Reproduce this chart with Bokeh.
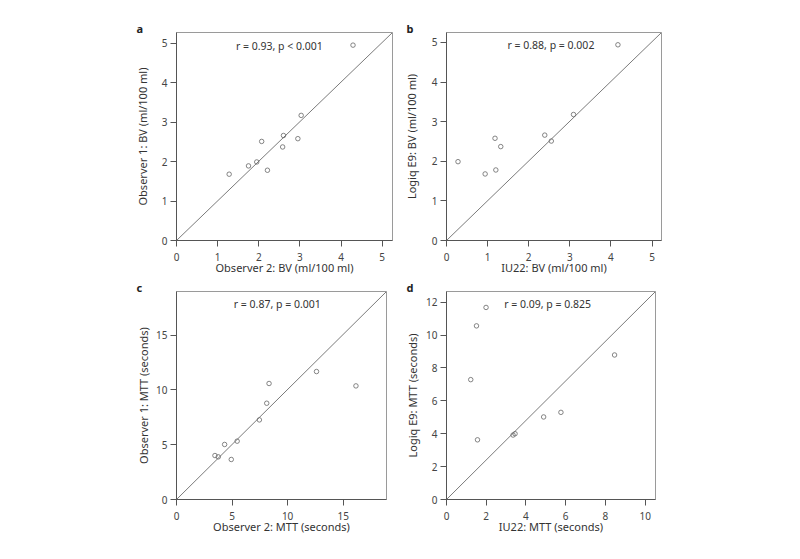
from bokeh.plotting import figure
from bokeh.layouts import column, row
from bokeh.models import Range1d, FixedTicker, Label, ColumnDataSource
from bokeh.embed import file_html
from bokeh.resources import INLINE

FONT = "Noto Sans"

# ---- data ----
a_x = [4.29, 3.03, 2.60, 2.95, 2.58, 2.07, 1.95, 1.75, 2.21, 1.28]
a_y = [4.95, 3.17, 2.66, 2.58, 2.37, 2.51, 1.99, 1.89, 1.78, 1.68]
b_x = [4.17, 3.09, 2.39, 2.55, 1.18, 1.32, 0.28, 0.94, 1.20]
b_y = [4.94, 3.18, 2.66, 2.51, 2.58, 2.37, 1.99, 1.68, 1.78]
c_x = [3.46, 3.76, 4.33, 5.46, 4.93, 7.46, 8.12, 8.33, 12.6, 16.15]
c_y = [4.01, 3.89, 5.02, 5.32, 3.65, 7.26, 8.78, 10.58, 11.67, 10.36]
d_x = [1.99, 1.51, 1.22, 1.56, 3.35, 3.45, 4.89, 5.76, 8.46]
d_y = [11.68, 10.56, 7.29, 3.63, 3.92, 4.00, 5.02, 5.30, 8.79]

a_lim = [5.25, 5.27]
b_lim = [5.23, 5.25]
c_lim = [18.9, 18.97]
d_lim = [10.52, 12.65]

a_ticks = [0, 1, 2, 3, 4, 5]
b_ticks = [0, 1, 2, 3, 4, 5]
c_ticks = [0, 5, 10, 15]
d_xticks = [0, 2, 4, 6, 8, 10]
d_yticks = [0, 2, 4, 6, 8, 10, 12]

labels = ["a", "b", "c", "d"]
x_titles = ["Observer 2: BV (ml/100 ml)", "IU22: BV (ml/100 ml)",
            "Observer 2: MTT (seconds)", "IU22: MTT (seconds)"]
y_titles = ["Observer 1: BV (ml/100 ml)", "Logiq E9: BV (ml/100 ml)",
            "Observer 1: MTT (seconds)", "Logiq E9: MTT (seconds)"]
stats = ["r = 0.93, p < 0.001", "r = 0.88, p = 0.002",
         "r = 0.87, p = 0.001", "r = 0.09, p = 0.825"]
stat_pos = [(2.5, 4.94), (2.54, 4.94), (9.07, 17.84), (5.09, 11.92)]


def panel(i, xs, ys, lim, xticks, yticks, fw, fh, borders, ylab_standoff):
    left, right, top, bottom = borders
    p = figure(frame_width=fw, frame_height=fh, output_backend="svg", toolbar_location=None,
               x_range=Range1d(0, lim[0]), y_range=Range1d(0, lim[1]),
               min_border_left=left, min_border_right=right,
               min_border_top=top, min_border_bottom=bottom)
    p.grid.visible = False
    p.background_fill_color = "white"
    p.border_fill_color = "white"
    p.outline_line_color = "#9a9a9a"
    p.outline_line_width = 1

    p.title.text = labels[i]
    p.title.align = "left"
    p.title.offset = -40
    p.title.standoff = -6
    p.title.text_font = FONT
    p.title.text_font_size = "11px"
    p.title.text_font_style = "bold"
    p.title.text_color = "#222222"

    for ax in (p.xaxis[0], p.yaxis[0]):
        ax.axis_line_color = "#555555"
        ax.major_tick_line_color = "#555555"
        ax.major_tick_out = 6
        ax.major_tick_in = 0
        ax.minor_tick_line_color = None
        ax.major_label_text_font = FONT
        ax.major_label_text_font_size = "10px"
        ax.major_label_text_color = "#444444"
        ax.axis_label_text_font = FONT
        ax.axis_label_text_font_size = "11px"
        ax.axis_label_text_font_style = "normal"
        ax.axis_label_text_color = "#333333"
    p.xaxis[0].major_label_standoff = 6
    p.yaxis[0].major_label_standoff = 3
    p.xaxis[0].ticker = FixedTicker(ticks=xticks)
    p.yaxis[0].ticker = FixedTicker(ticks=yticks)
    p.xaxis[0].axis_label = x_titles[i]
    p.yaxis[0].axis_label = y_titles[i]
    p.xaxis[0].axis_label_standoff = -4
    p.yaxis[0].axis_label_standoff = ylab_standoff

    # diagonal from origin to the frame corner
    p.line(x=[0, lim[0]], y=[0, lim[1]], line_color="#7a7a7a", line_width=1)

    src = ColumnDataSource(dict(x=xs, y=ys))
    p.scatter("x", "y", source=src, marker="circle", size=4.5, fill_color=None,
              line_color="#666666", line_width=0.8)

    sx, sy = stat_pos[i]
    p.add_layout(Label(x=sx, y=sy, text=stats[i], text_align="center",
                       text_baseline="middle", text_font=FONT,
                       text_font_size="10.5px", text_color="#333333"))
    return p


pa = panel(0, a_x, a_y, a_lim, a_ticks, a_ticks, 216, 208, (176, 7, 32, 37), 9)
pb = panel(1, b_x, b_y, b_lim, b_ticks, b_ticks, 215, 208, (47, 130, 32, 37), 10)
pc = panel(2, c_x, c_y, c_lim, c_ticks, c_ticks, 210, 208, (176, 13, 14, 40), 2)
pd = panel(3, d_x, d_y, d_lim, d_xticks, d_yticks, 209, 208, (47, 136, 14, 40), 3)

layout = column(row(pa, pb), row(pc, pd))

open("out.html", "w").write(file_html(layout, INLINE))
